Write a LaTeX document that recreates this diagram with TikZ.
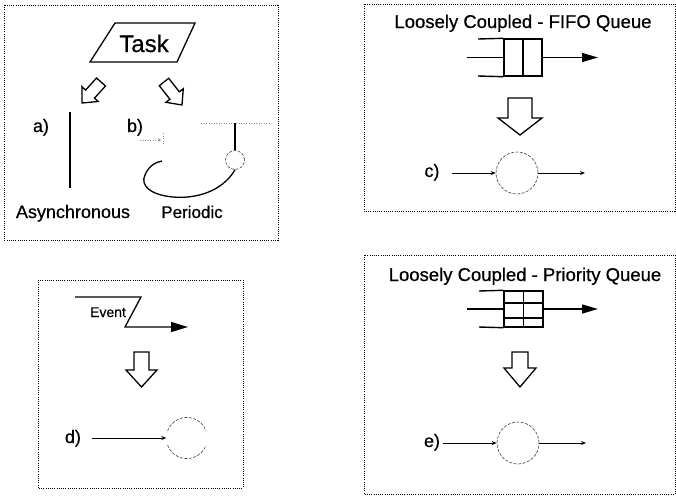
\documentclass[tikz,border=0pt]{standalone}
\usepackage{fontspec}
\setmainfont{Liberation Sans}[FakeBold=0.6]
\usetikzlibrary{arrows.meta}
\begin{document}
\begin{tikzpicture}[x=1pt,y=-1pt,
  panel/.style={draw, line width=0.9pt, dash pattern=on 1pt off 1.2pt},
  blockarrow/.style={draw, fill=white, line width=1.3pt, line join=miter},
  proc/.style={circle, draw=black!75, line width=0.6pt, dash pattern=on 3pt off 1.5pt, minimum size=42pt, inner sep=0pt},
  lbl/.style={anchor=base, inner sep=0pt, font=\fontsize{18}{20}\selectfont},
  ttl/.style={anchor=base, inner sep=0pt, font=\fontsize{18.5}{20}\selectfont},
  flow/.style={line width=0.9pt, -{Stealth[length=5pt,width=4pt]}},
  bigflow/.style={line width=1.3pt, -{Triangle[length=16pt,width=9pt]}},
  qline/.style={line width=1.4pt},
  faint/.style={draw=black!45, line width=0.5pt, dash pattern=on 1pt off 1.5pt}
]
\useasboundingbox (0,0) rectangle (676,498);

% ---------- panel frames ----------
\draw[panel] (4,5) rectangle (278,240);
\draw[panel] (364,4) rectangle (675,211);
\draw[panel] (38,280) rectangle (243,488);
\draw[panel] (364,255) rectangle (675,494);

% ---------- panel 1: Task ----------
\draw[line width=1.3pt] (115,23) -- (195,23) -- (177,62) -- (90,62) -- cycle;
\node[anchor=base, inner sep=0pt, font=\fontsize{24}{26}\selectfont] (task) at (144,52) {Task};

\draw[blockarrow] (105.5,86.0) -- (94.5,98.1) -- (98.2,101.5) -- (82,103) -- (81.9,86.7) -- (85.6,90.1) -- (96.5,78.0) -- cycle;
\draw[blockarrow] (168.7,78.3) -- (179.3,91.8) -- (183.3,88.7) -- (182,105) -- (165.9,102.3) -- (169.9,99.2) -- (159.3,85.7) -- cycle;

\node[lbl] (la) at (41,132) {a)};
\node[lbl] (lb) at (135,132) {b)};
\draw[line width=1.3pt] (70,112) -- (70,188);

% periodic task symbol
\draw[faint] (201,123) -- (270,123);
\coordinate (ptop) at (235,123);
\node[proc, minimum size=19pt] (ptask) at (235,160) {};
\draw[line width=1.3pt] (ptop) -- (ptask.north);
\coordinate (pend) at (162,161);
\draw[line width=1.3pt] (ptask.south) .. controls (222,192) and (195,199) .. (173,197)
  .. controls (150,195) and (140,185) .. (145,175)
  .. controls (148,167) and (155,162) .. (pend);
\coordinate (sa) at (140,140);
\coordinate (sb) at (161,140);
\draw[faint, -{Stealth[length=3pt,width=3pt]}] (sa) -- (sb);
\draw[faint] (163,133) -- (163,145);

\node[lbl] (async) at (73,218) {Asynchronous};
\node[anchor=base, inner sep=0pt, font=\fontsize{17}{20}\selectfont] (periodic) at (192,218) {Periodic};

% ---------- panel 2: FIFO ----------
\node[ttl] (t1) at (523,28) {Loosely Coupled - FIFO Queue};
\node[draw, qline, minimum width=38pt, minimum height=37pt, inner sep=0pt] (q1) at (523,57.5) {};
\draw[qline] (q1.north) -- (q1.south);
\coordinate (q1a) at (478,39);
\coordinate (q1b) at (478,76);
\coordinate (q1in) at (467,57.5);
\coordinate (q1out) at (598,57.5);
\draw[qline] (q1a) -- (q1.north west);
\draw[qline] (q1b) -- (q1.south west);
\draw[qline] (q1in) -- (q1.west);
\draw[bigflow] (q1.east) -- (q1out);

\draw[blockarrow] (508,98) -- (532,98) -- (532,118) -- (542,118) -- (520,135) -- (498,118) -- (508,118) -- cycle;

\node[lbl] (lc) at (432,177) {c)};
\node[proc] (pc) at (517,173) {};
\coordinate (cin) at (452,173);
\coordinate (cout) at (585,173);
\draw[flow] (cin) -- (pc.west);
\draw[flow] (pc.east) -- (cout);

% ---------- panel 3: Event ----------
\coordinate (e1) at (75,297);
\coordinate (e2) at (141,297);
\coordinate (e3) at (125,327);
\coordinate (e4) at (188,327);
\draw[line width=1.3pt, line join=miter, -{Triangle[length=17pt,width=10pt]}] (e1) -- (e2) -- (e3) -- (e4);
\node[anchor=base, inner sep=0pt, font=\fontsize{14}{16}\selectfont] (event) at (108,317) {Event};

\draw[blockarrow] (134,352) -- (149,352) -- (149,370) -- (157,370) -- (141.5,387) -- (126,370) -- (134,370) -- cycle;

\node[lbl] (ld) at (73,443) {d)};
\node[circle, minimum size=41pt, inner sep=0pt] (pd) at (187,438) {};
\draw[draw=black!75, line width=0.6pt, dash pattern=on 3pt off 1.5pt] (pd.160) arc[start angle=160, end angle=20, radius=20.5pt];
\draw[draw=black!75, line width=0.6pt, dash pattern=on 3pt off 1.5pt] (pd.200) arc[start angle=200, end angle=340, radius=20.5pt];
\coordinate (din) at (92,438);
\draw[flow] (din) -- (pd.west);

% ---------- panel 4: Priority ----------
\node[ttl] (t2) at (525,281) {Loosely Coupled - Priority Queue};
\node[draw, qline, minimum width=39pt, minimum height=36pt, inner sep=0pt] (q2) at (523.5,309) {};
\draw[qline] (q2.north) -- (q2.south);
\draw[qline] (504,303) -- (543,303);
\draw[qline] (504,318) -- (543,318);
\coordinate (q2a) at (479,291);
\coordinate (q2b) at (479,327);
\coordinate (q2in) at (467,309);
\coordinate (q2out) at (598,309);
\draw[qline] (q2a) -- (q2.north west);
\draw[qline] (q2b) -- (q2.south west);
\draw[qline] (q2in) -- (q2.west);
\draw[bigflow] (q2.east) -- (q2out);

\draw[blockarrow] (512,352) -- (528,352) -- (528,368) -- (536,368) -- (520,387) -- (504,368) -- (512,368) -- cycle;

\node[lbl] (le) at (432,447) {e)};
\node[proc] (pe) at (518,443) {};
\coordinate (ein) at (443,443);
\coordinate (eout) at (586,443);
\draw[flow] (ein) -- (pe.west);
\draw[flow] (pe.east) -- (eout);
\end{tikzpicture}
\end{document}
